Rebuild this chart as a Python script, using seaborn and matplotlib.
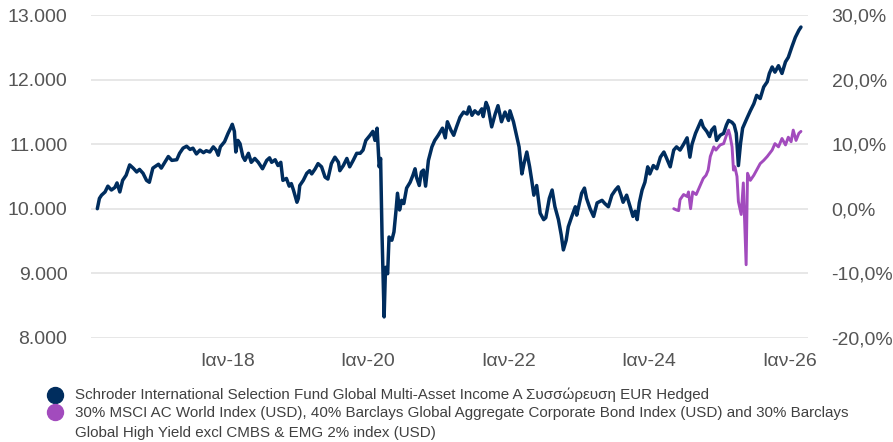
import pandas as pd
import seaborn as sns
import matplotlib.pyplot as plt
from matplotlib.lines import Line2D
from matplotlib.ticker import FuncFormatter

# Series names (legend)
fund_name = "Schroder International Selection Fund Global Multi-Asset Income A Συσσώρευση EUR Hedged"
bench_lines = ["30% MSCI AC World Index (USD), 40% Barclays Global Aggregate Corporate Bond Index (USD) and 30% Barclays",
               "Global High Yield excl CMBS & EMG 2% index (USD)"]

# Fund: time (decimal year) and value of 10.000 invested
fund_t = [2016.15, 2016.18, 2016.21, 2016.26, 2016.30, 2016.35, 2016.40, 2016.43, 2016.47, 2016.51,
          2016.56, 2016.61, 2016.66, 2016.71, 2016.75, 2016.80, 2016.85, 2016.89, 2016.94, 2017.02,
          2017.06, 2017.11, 2017.16, 2017.21, 2017.28, 2017.32, 2017.37, 2017.42, 2017.47, 2017.51,
          2017.56, 2017.61, 2017.66, 2017.70, 2017.75, 2017.80, 2017.84, 2017.87, 2017.90, 2017.96,
          2018.01, 2018.05, 2018.07, 2018.10, 2018.12, 2018.15, 2018.18, 2018.22, 2018.25, 2018.30,
          2018.34, 2018.39, 2018.44, 2018.50, 2018.56, 2018.60, 2018.63, 2018.68, 2018.72, 2018.76,
          2018.79, 2018.84, 2018.88, 2018.91, 2018.94, 2018.99, 2019.01, 2019.03, 2019.08, 2019.13,
          2019.17, 2019.20, 2019.25, 2019.29, 2019.34, 2019.39, 2019.43, 2019.48, 2019.53, 2019.58,
          2019.60, 2019.65, 2019.70, 2019.74, 2019.79, 2019.84, 2019.89, 2019.93, 2019.97, 2020.03,
          2020.07, 2020.10, 2020.13, 2020.16, 2020.18, 2020.20, 2020.23, 2020.25, 2020.28, 2020.30,
          2020.34, 2020.37, 2020.40, 2020.42, 2020.45, 2020.48, 2020.51, 2020.55, 2020.60, 2020.64,
          2020.67, 2020.69, 2020.73, 2020.76, 2020.79, 2020.82, 2020.86, 2020.91, 2020.95, 2021.00,
          2021.06, 2021.10, 2021.13, 2021.18, 2021.22, 2021.26, 2021.31, 2021.36, 2021.41, 2021.44,
          2021.48, 2021.52, 2021.57, 2021.62, 2021.64, 2021.68, 2021.71, 2021.76, 2021.81, 2021.85,
          2021.90, 2021.95, 2022.00, 2022.02, 2022.07, 2022.12, 2022.15, 2022.19, 2022.22, 2022.26,
          2022.30, 2022.33, 2022.36, 2022.40, 2022.45, 2022.50, 2022.53, 2022.58, 2022.62, 2022.66,
          2022.71, 2022.75, 2022.78, 2022.82, 2022.85, 2022.90, 2022.95, 2022.97, 2023.01, 2023.04,
          2023.08, 2023.11, 2023.16, 2023.21, 2023.26, 2023.33, 2023.37, 2023.42, 2023.47, 2023.52,
          2023.56, 2023.60, 2023.63, 2023.68, 2023.73, 2023.77, 2023.80, 2023.83, 2023.86, 2023.90,
          2023.94, 2023.98, 2024.01, 2024.06, 2024.11, 2024.16, 2024.21, 2024.25, 2024.30, 2024.35,
          2024.39, 2024.44, 2024.49, 2024.54, 2024.58, 2024.61, 2024.66, 2024.70, 2024.74, 2024.77,
          2024.82, 2024.86, 2024.89, 2024.93, 2024.96, 2025.01, 2025.06, 2025.10, 2025.13, 2025.18,
          2025.21, 2025.24, 2025.27, 2025.30, 2025.33, 2025.39, 2025.44, 2025.49, 2025.53, 2025.58,
          2025.63, 2025.68, 2025.71, 2025.75, 2025.79, 2025.84, 2025.89, 2025.94, 2025.98, 2026.03,
          2026.08, 2026.13, 2026.16]
fund_v = [10000, 10160, 10210, 10260, 10350, 10290, 10330, 10400, 10260, 10440,
          10520, 10680, 10630, 10570, 10610, 10550, 10440, 10410, 10630, 10690,
          10630, 10720, 10810, 10750, 10760, 10860, 10940, 10970, 10920, 10940,
          10850, 10910, 10870, 10900, 10880, 10960, 10910, 10830, 10960, 11040,
          11170, 11260, 11310, 11200, 10880, 11060, 11010, 10810, 10750, 10860,
          10720, 10780, 10720, 10620, 10750, 10790, 10720, 10760, 10670, 10720,
          10440, 10470, 10350, 10390, 10290, 10100, 10160, 10360, 10440, 10550,
          10590, 10540, 10620, 10700, 10650, 10490, 10460, 10700, 10800, 10720,
          10590, 10670, 10780, 10650, 10750, 10860, 10860, 10910, 11060, 11140,
          11200, 11060, 11250, 10650, 10780, 9610, 8320, 9090, 8990, 9560,
          9510, 9640, 9980, 10240, 9980, 10130, 10080, 10320, 10410, 10520,
          10620, 10490, 10360, 10570, 10600, 10350, 10750, 10960, 11060, 11140,
          11250, 11100, 11350, 11220, 11140, 11270, 11420, 11500, 11470, 11580,
          11450, 11520, 11470, 11550, 11430, 11650, 11570, 11270, 11470, 11600,
          11350, 11500, 11370, 11520, 11350, 11110, 10960, 10540, 10700, 10880,
          10650, 10440, 10210, 10360, 9930, 9830, 9860, 10160, 10290, 10030,
          9830, 9590, 9360, 9510, 9720, 9880, 10030, 9900, 10090, 10240,
          10320, 10160, 10000, 9880, 10090, 10130, 10080, 10030, 10210, 10290,
          10340, 10210, 10100, 10210, 10030, 9880, 9960, 9830, 10090, 10290,
          10410, 10650, 10540, 10670, 10620, 10800, 10880, 10780, 10650, 10910,
          10960, 10910, 11000, 11100, 10800, 11000, 11170, 11270, 11370, 11270,
          11200, 11120, 11220, 11270, 11060, 11140, 11170, 11300, 11370, 11340,
          11300, 11170, 10670, 11010, 11250, 11400, 11520, 11630, 11760, 11710,
          11890, 11970, 12100, 12200, 12120, 12220, 12100, 12280, 12350, 12510,
          12660, 12770, 12820]

# Benchmark: cumulative return in %
bench_t = [2024.35, 2024.39, 2024.42, 2024.44, 2024.49, 2024.54, 2024.56, 2024.59, 2024.62, 2024.67,
           2024.73, 2024.77, 2024.81, 2024.84, 2024.87, 2024.92, 2024.95, 2025.01, 2025.06, 2025.10,
           2025.13, 2025.15, 2025.18, 2025.20, 2025.22, 2025.25, 2025.27, 2025.31, 2025.34, 2025.38,
           2025.40, 2025.44, 2025.49, 2025.53, 2025.58, 2025.63, 2025.68, 2025.75, 2025.79, 2025.84,
           2025.89, 2025.94, 2025.98, 2026.02, 2026.05, 2026.09, 2026.13, 2026.16]
bench_pct = [0.0, -0.2, -0.3, 1.4, 2.2, 1.9, 2.6, 0.0, 2.6, 2.2,
             3.7, 4.7, 5.2, 6.0, 8.1, 9.6, 9.1, 9.9, 10.1, 11.4,
             12.2, 11.4, 9.6, 6.0, 6.5, 5.0, 1.1, -0.9, 4.0, -8.7,
             5.5, 4.4, 5.2, 6.0, 7.0, 7.5, 8.1, 9.1, 10.1, 9.6,
             10.9, 9.9, 11.1, 10.4, 12.2, 10.6, 11.7, 12.0]

x_ticks = [2018, 2020, 2022, 2024, 2026]
x_labels = ["Ιαν-18", "Ιαν-20", "Ιαν-22", "Ιαν-24", "Ιαν-26"]
y_ticks = [8000, 9000, 10000, 11000, 12000, 13000]
pct_ticks = [-20, -10, 0, 10, 20, 30]

navy = "#002D5E"
purple = "#A24BBD"
tick_col = "#555555"

sns.set_style("white")
plt.rcParams['font.family'] = ['Liberation Sans', 'DejaVu Sans']

fig = plt.figure(figsize=(8.93, 4.42), dpi=100)
ax = fig.add_axes([0.1019, 0.2364, 0.8029, 0.7286])
ax2 = ax.twinx()

df_fund = pd.DataFrame({"t": fund_t, "v": fund_v})
df_bench = pd.DataFrame({"t": bench_t, "p": bench_pct})

sns.lineplot(data=df_fund, x="t", y="v", ax=ax, color=navy, linewidth=2.5, estimator=None, zorder=3)
sns.lineplot(data=df_bench, x="t", y="p", ax=ax2, color=purple, linewidth=2.1, estimator=None, zorder=3)

ax.set_xlim(2016.06, 2026.26)
ax.set_ylim(8000, 13000)
ax2.set_ylim(-20, 30)

ax.set_yticks(y_ticks)
ax.yaxis.set_major_formatter(FuncFormatter(lambda v, p: f"{int(v):,}".replace(",", ".")))
ax2.set_yticks(pct_ticks)
ax2.yaxis.set_major_formatter(FuncFormatter(lambda v, p: f"{v:.1f}".replace(".", ",") + "%"))
ax.set_xticks(x_ticks)
ax.set_xticklabels(x_labels)

ax.grid(axis="y", color="#e3e3e3", linewidth=1.2)
ax.grid(axis="x", visible=False)
ax2.grid(False)
ax.set_axisbelow(True)

for a in (ax, ax2):
    for s in a.spines.values():
        s.set_visible(False)
    a.set_xlabel("")
    a.set_ylabel("")
ax.tick_params(axis="y", length=0, pad=17, labelsize=14, labelcolor=tick_col)
ax2.tick_params(axis="y", length=0, pad=17, labelsize=14, labelcolor=tick_col)
ax.tick_params(axis="x", length=0, pad=11, labelsize=14, labelcolor=tick_col)

# legend, drawn by hand
W, H = 893, 442
leg_col = "#404040"
leg_size = 10.9
fig.add_artist(Line2D([55 / W], [1 - 394.5 / H], marker="o", markersize=11.5, color=navy,
                      linestyle="", transform=fig.transFigure))
fig.add_artist(Line2D([55 / W], [1 - 411.5 / H], marker="o", markersize=11.5, color=purple,
                      linestyle="", transform=fig.transFigure))
fig.text(75 / W, 1 - 395 / H, fund_name, va="center", ha="left", fontsize=leg_size, color=leg_col)
fig.text(75 / W, 1 - 412.5 / H, bench_lines[0], va="center", ha="left", fontsize=leg_size, color=leg_col)
fig.text(75 / W, 1 - 433 / H, bench_lines[1], va="center", ha="left", fontsize=leg_size, color=leg_col)

fig.savefig("out.png", dpi=100)
